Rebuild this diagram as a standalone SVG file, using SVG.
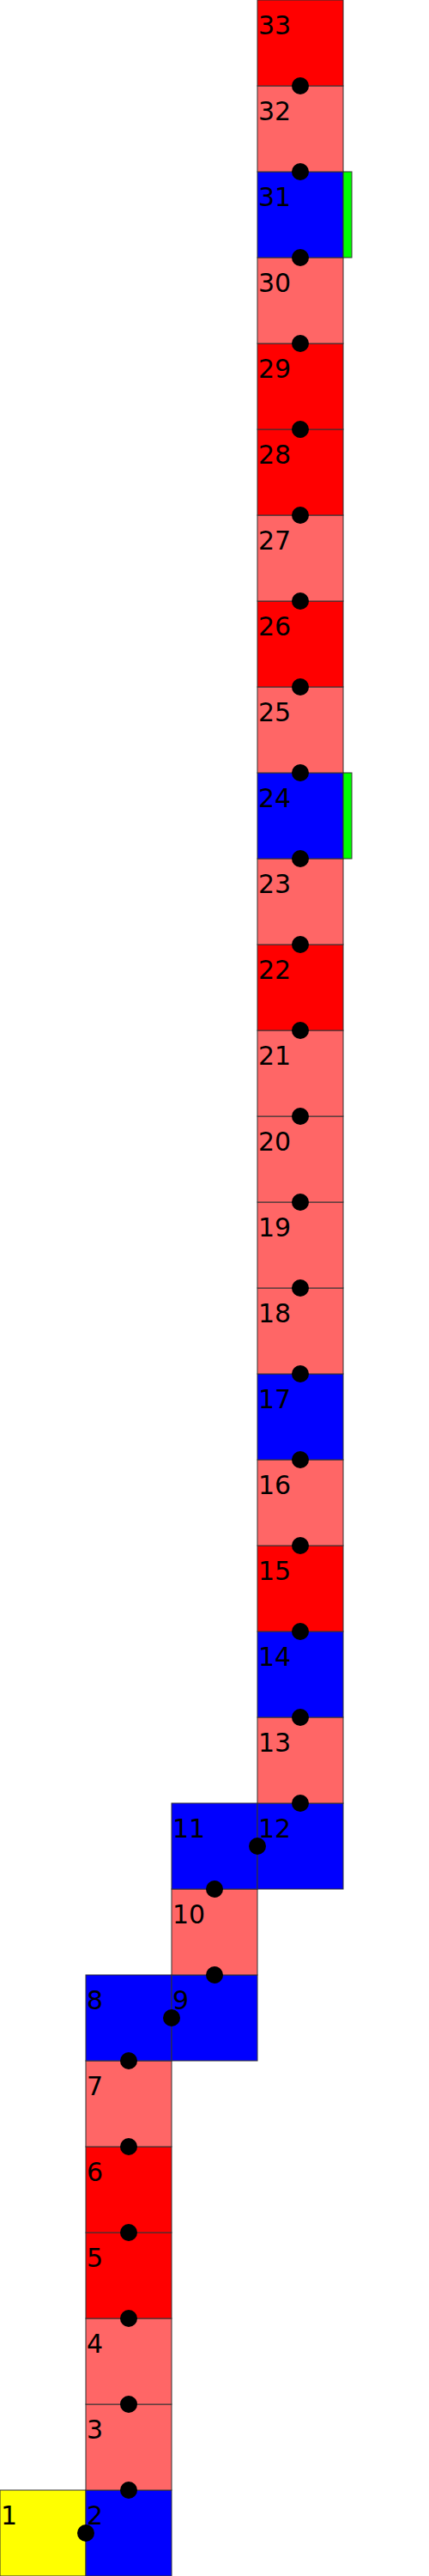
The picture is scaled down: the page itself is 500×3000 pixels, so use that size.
<svg xmlns="http://www.w3.org/2000/svg" width="500" height="3000" viewBox="0 0 500 3000">
<style>
rect.c{stroke:#333;stroke-width:1}
.y{fill:#ffff00}.b{fill:#0000ff}.l{fill:#ff6666}.r{fill:#ff0000}
.g{fill:#00ff00;stroke:#333;stroke-width:1}
text{font-family:"DejaVu Sans",sans-serif;font-size:30px;fill:#000}
circle{fill:#000}
</style>
<rect width="500" height="3000" fill="#fff"/>
<g id="n1"><rect class="c y" x="0" y="2900" width="100" height="100"/><text x="1" y="2940">1</text></g>
<g id="n2"><rect class="c b" x="100" y="2900" width="100" height="100"/><text x="101" y="2940">2</text></g>
<g id="n3"><rect class="c l" x="100" y="2800" width="100" height="100"/><text x="101" y="2840">3</text></g>
<g id="n4"><rect class="c l" x="100" y="2700" width="100" height="100"/><text x="101" y="2740">4</text></g>
<g id="n5"><rect class="c r" x="100" y="2600" width="100" height="100"/><text x="101" y="2640">5</text></g>
<g id="n6"><rect class="c r" x="100" y="2500" width="100" height="100"/><text x="101" y="2540">6</text></g>
<g id="n7"><rect class="c l" x="100" y="2400" width="100" height="100"/><text x="101" y="2440">7</text></g>
<g id="n8"><rect class="c b" x="100" y="2300" width="100" height="100"/><text x="101" y="2340">8</text></g>
<g id="n9"><rect class="c b" x="200" y="2300" width="100" height="100"/><text x="201" y="2340">9</text></g>
<g id="n10"><rect class="c l" x="200" y="2200" width="100" height="100"/><text x="201" y="2240">10</text></g>
<g id="n11"><rect class="c b" x="200" y="2100" width="100" height="100"/><text x="201" y="2140">11</text></g>
<g id="n12"><rect class="c b" x="300" y="2100" width="100" height="100"/><text x="301" y="2140">12</text></g>
<g id="n13"><rect class="c l" x="300" y="2000" width="100" height="100"/><text x="301" y="2040">13</text></g>
<g id="n14"><rect class="c b" x="300" y="1900" width="100" height="100"/><text x="301" y="1940">14</text></g>
<g id="n15"><rect class="c r" x="300" y="1800" width="100" height="100"/><text x="301" y="1840">15</text></g>
<g id="n16"><rect class="c l" x="300" y="1700" width="100" height="100"/><text x="301" y="1740">16</text></g>
<g id="n17"><rect class="c b" x="300" y="1600" width="100" height="100"/><text x="301" y="1640">17</text></g>
<g id="n18"><rect class="c l" x="300" y="1500" width="100" height="100"/><text x="301" y="1540">18</text></g>
<g id="n19"><rect class="c l" x="300" y="1400" width="100" height="100"/><text x="301" y="1440">19</text></g>
<g id="n20"><rect class="c l" x="300" y="1300" width="100" height="100"/><text x="301" y="1340">20</text></g>
<g id="n21"><rect class="c l" x="300" y="1200" width="100" height="100"/><text x="301" y="1240">21</text></g>
<g id="n22"><rect class="c r" x="300" y="1100" width="100" height="100"/><text x="301" y="1140">22</text></g>
<g id="n23"><rect class="c l" x="300" y="1000" width="100" height="100"/><text x="301" y="1040">23</text></g>
<g id="n24"><rect class="c b" x="300" y="900" width="100" height="100"/><rect class="g" x="400" y="900" width="10" height="100"/><text x="301" y="940">24</text></g>
<g id="n25"><rect class="c l" x="300" y="800" width="100" height="100"/><text x="301" y="840">25</text></g>
<g id="n26"><rect class="c r" x="300" y="700" width="100" height="100"/><text x="301" y="740">26</text></g>
<g id="n27"><rect class="c l" x="300" y="600" width="100" height="100"/><text x="301" y="640">27</text></g>
<g id="n28"><rect class="c r" x="300" y="500" width="100" height="100"/><text x="301" y="540">28</text></g>
<g id="n29"><rect class="c r" x="300" y="400" width="100" height="100"/><text x="301" y="440">29</text></g>
<g id="n30"><rect class="c l" x="300" y="300" width="100" height="100"/><text x="301" y="340">30</text></g>
<g id="n31"><rect class="c b" x="300" y="200" width="100" height="100"/><rect class="g" x="400" y="200" width="10" height="100"/><text x="301" y="240">31</text></g>
<g id="n32"><rect class="c l" x="300" y="100" width="100" height="100"/><text x="301" y="140">32</text></g>
<g id="n33"><rect class="c r" x="300" y="0" width="100" height="100"/><text x="301" y="40">33</text></g>
<g id="connectors">
<circle cx="100" cy="2950" r="10"/>
<circle cx="150" cy="2900" r="10"/>
<circle cx="150" cy="2800" r="10"/>
<circle cx="150" cy="2700" r="10"/>
<circle cx="150" cy="2600" r="10"/>
<circle cx="150" cy="2500" r="10"/>
<circle cx="150" cy="2400" r="10"/>
<circle cx="200" cy="2350" r="10"/>
<circle cx="250" cy="2300" r="10"/>
<circle cx="250" cy="2200" r="10"/>
<circle cx="300" cy="2150" r="10"/>
<circle cx="350" cy="2100" r="10"/>
<circle cx="350" cy="2000" r="10"/>
<circle cx="350" cy="1900" r="10"/>
<circle cx="350" cy="1800" r="10"/>
<circle cx="350" cy="1700" r="10"/>
<circle cx="350" cy="1600" r="10"/>
<circle cx="350" cy="1500" r="10"/>
<circle cx="350" cy="1400" r="10"/>
<circle cx="350" cy="1300" r="10"/>
<circle cx="350" cy="1200" r="10"/>
<circle cx="350" cy="1100" r="10"/>
<circle cx="350" cy="1000" r="10"/>
<circle cx="350" cy="900" r="10"/>
<circle cx="350" cy="800" r="10"/>
<circle cx="350" cy="700" r="10"/>
<circle cx="350" cy="600" r="10"/>
<circle cx="350" cy="500" r="10"/>
<circle cx="350" cy="400" r="10"/>
<circle cx="350" cy="300" r="10"/>
<circle cx="350" cy="200" r="10"/>
<circle cx="350" cy="100" r="10"/>
</g>
</svg>
